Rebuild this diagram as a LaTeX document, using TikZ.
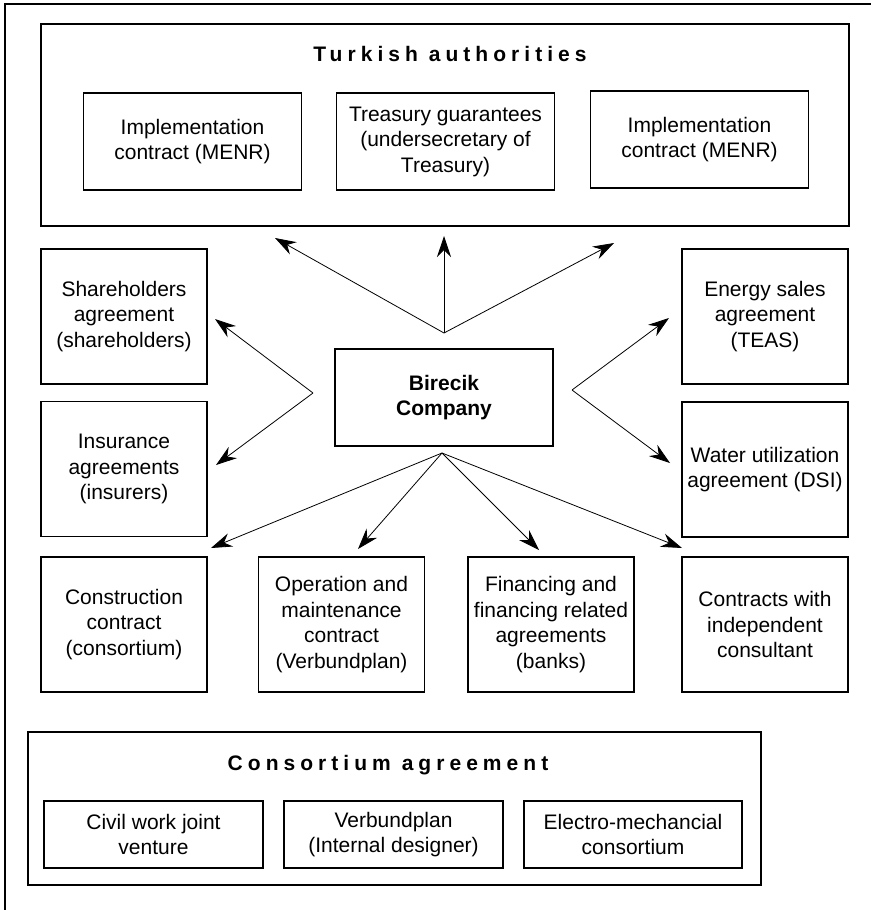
\documentclass[tikz,border=0pt]{standalone}
\usepackage{fontspec}
\setmainfont{Liberation Sans}
\usetikzlibrary{arrows.meta}

\begin{document}
\begin{tikzpicture}[x=1pt,y=-1pt,
  box/.style={draw, line width=1.1pt, align=center, inner sep=0pt, font=\fontsize{21}{25.5}\selectfont},
  sidebox/.style={box, minimum width=166pt, minimum height=135pt},
  topbox/.style={box, minimum width=218pt, minimum height=97pt},
  consbox/.style={box, minimum width=219pt, minimum height=67pt},
  title/.style={font=\fontsize{21}{25.5}\selectfont\bfseries\addfontfeatures{LetterSpace=24}},
  link/.style={line width=0.8pt, -{Stealth[length=21pt,width=14pt,inset=7pt]}}]

\useasboundingbox (0,0) rectangle (871,910);
\draw[line width=1.1pt] (5,910) -- (5,4) -- (871,4);

\node[box, minimum width=808pt, minimum height=202pt] (turk) at (445,125) {};
\node[title] (turktitle) at (450,54) {Turkish authorities};
\node[topbox] (impla) at (192.5,141.5) {Implementation\\contract (MENR)};
\node[topbox] (treasury) at (445.5,141.5) {Treasury guarantees\\(undersecretary of\\Treasury)};
\node[topbox] (implb) at (699.5,139.5) {Implementation\\contract (MENR)};

\node[topbox, font=\fontsize{21}{25.5}\selectfont\bfseries] (birecik) at (444,397.5) {Birecik\\Company};

\node[sidebox] (share) at (124,316.5) {Shareholders\\agreement\\(shareholders)};
\node[sidebox] (insur) at (124,469) {Insurance\\agreements\\(insurers)};
\node[sidebox] (energy) at (765,316.5) {Energy sales\\agreement\\(TEAS)};
\node[sidebox] (water) at (765,469.5) {Water utilization\\agreement (DSI)};

\node[sidebox] (constr) at (124,624.5) {Construction\\contract\\(consortium)};
\node[sidebox] (oper) at (341.5,624.5) {Operation and\\maintenance\\contract\\(Verbundplan)};
\node[sidebox] (fin) at (551,624.5) {Financing and\\financing related\\agreements\\(banks)};
\node[sidebox] (consult) at (765,624.5) {Contracts with\\independent\\consultant};

\coordinate (tophub) at (444,333);
\coordinate (lefthub) at (313,393);
\coordinate (righthub) at (572,390);
\coordinate (bothub) at (442,453);

\coordinate (ta) at (275,238);
\coordinate (tb) at (444,236);
\coordinate (tc) at (614,243);
\coordinate (la) at (215,319);
\coordinate (lb) at (216,465);
\coordinate (ra) at (669,318);
\coordinate (rb) at (670,463);
\coordinate (ba) at (211,548);
\coordinate (bb) at (358,549);
\coordinate (bc) at (539,550);
\coordinate (bd) at (682,548);

\draw[link] (tophub) -- (ta);
\draw[link] (tophub) -- (tb);
\draw[link] (tophub) -- (tc);
\draw[link] (lefthub) -- (la);
\draw[link] (lefthub) -- (lb);
\draw[link] (righthub) -- (ra);
\draw[link] (righthub) -- (rb);
\draw[link] (bothub) -- (ba);
\draw[link] (bothub) -- (bb);
\draw[link] (bothub) -- (bc);
\draw[link] (bothub) -- (bd);

\node[box, minimum width=733pt, minimum height=153pt] (consort) at (394.5,808.5) {};
\node[title] (constitle) at (388,765) {Consortium agreement};
\node[consbox] (civil) at (153.5,834.5) {Civil work joint\\venture};
\node[consbox] (verbund) at (393.5,834.5) {Verbundplan\\(Internal designer)};
\node[consbox, minimum width=218pt] (electro) at (633,834.5) {Electro-mechancial\\consortium};
\end{tikzpicture}
\end{document}
